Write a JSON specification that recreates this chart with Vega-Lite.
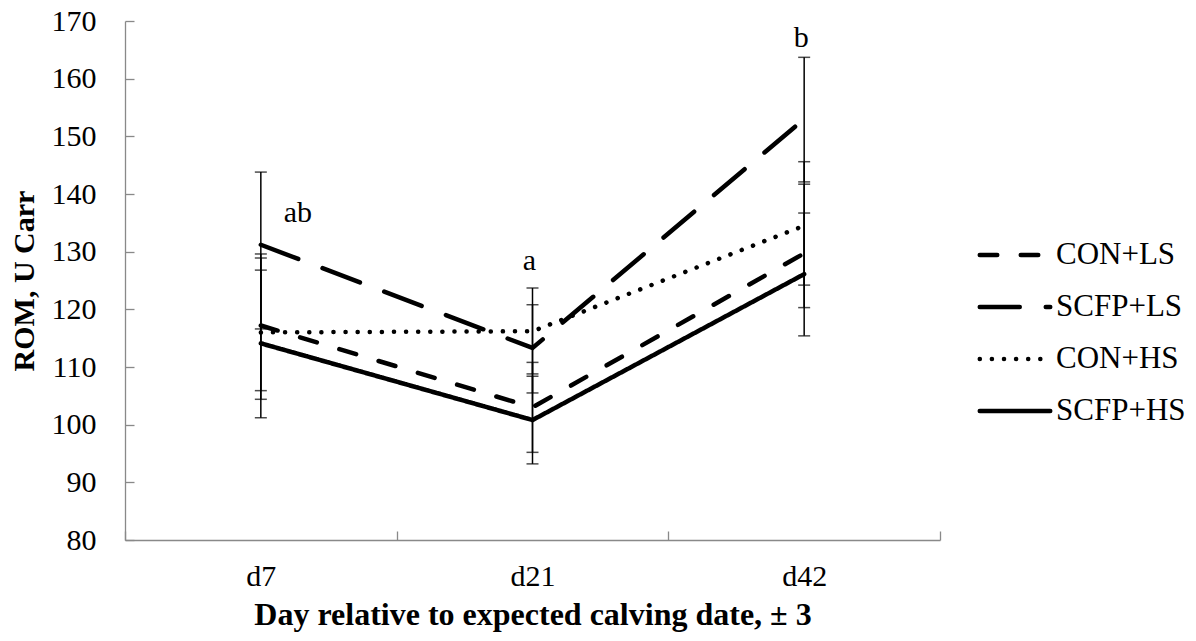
{
  "$schema": "https://vega.github.io/schema/vega-lite/v6.json",
  "autosize": "none",
  "width": 815,
  "height": 519,
  "padding": {"left": 125, "top": 21, "right": 256, "bottom": 101},
  "background": "white",
  "config": {
    "view": {"stroke": null},
    "font": "Liberation Serif",
    "axis": {"labelFont": "Liberation Serif", "titleFont": "Liberation Serif", "labelColor": "black", "titleColor": "black", "domainColor": "#898989", "tickColor": "#898989", "domainWidth": 1.3, "tickWidth": 1.3, "grid": false},
    "legend": {"labelFont": "Liberation Serif"}
  },
  "datasets": {
    "means": [
      {"day": "d7", "group": "CON+LS", "rom": 117.2, "lo": 105.9, "hi": 129.6},
      {"day": "d7", "group": "SCFP+LS", "rom": 131.2, "lo": 116.6, "hi": 143.8},
      {"day": "d7", "group": "CON+HS", "rom": 116.0, "lo": 104.4, "hi": 128.9},
      {"day": "d7", "group": "SCFP+HS", "rom": 114.1, "lo": 101.2, "hi": 126.8},
      {"day": "d21", "group": "CON+LS", "rom": 103.0, "lo": 95.2, "hi": 110.8},
      {"day": "d21", "group": "SCFP+LS", "rom": 113.3, "lo": 105.5, "hi": 120.8},
      {"day": "d21", "group": "CON+HS", "rom": 116.2, "lo": 108.8, "hi": 123.7},
      {"day": "d21", "group": "SCFP+HS", "rom": 100.8, "lo": 93.2, "hi": 108.4},
      {"day": "d42", "group": "CON+LS", "rom": 129.7, "lo": 120.3, "hi": 141.7},
      {"day": "d42", "group": "SCFP+LS", "rom": 153.0, "lo": 142.1, "hi": 163.7},
      {"day": "d42", "group": "CON+HS", "rom": 134.5, "lo": 124.2, "hi": 145.6},
      {"day": "d42", "group": "SCFP+HS", "rom": 126.1, "lo": 115.4, "hi": 136.7}
    ],
    "letters": [
      {"day": "d7", "label": "ab", "pos": 136.7},
      {"day": "d21", "label": "a", "pos": 128.3},
      {"day": "d42", "label": "b", "pos": 167.0}
    ]
  },
  "encoding": {
    "x": {"field": "day", "type": "nominal", "sort": ["d7", "d21", "d42"],
      "scale": {"domain": ["d7", "d21", "d42"], "paddingInner": 0, "paddingOuter": 0},
      "axis": {"title": "Day relative to expected calving date, ± 3", "labelAngle": 0, "labelFontSize": 30, "titleFontSize": 32, "titleFontWeight": "bold", "tickBand": "extent", "tickSize": -9, "labelPadding": 30, "titlePadding": 8}}
  },
  "layer": [
    {
      "data": {"name": "means"},
      "mark": {"type": "rule", "color": "black", "strokeWidth": 1.5},
      "encoding": {
        "y": {"field": "lo", "type": "quantitative"},
        "y2": {"field": "hi"}
      }
    },
    {
      "data": {"name": "means"},
      "mark": {"type": "tick", "color": "black", "size": 12, "thickness": 1.5, "orient": "horizontal"},
      "encoding": {"y": {"field": "lo", "type": "quantitative"}}
    },
    {
      "data": {"name": "means"},
      "mark": {"type": "tick", "color": "black", "size": 12, "thickness": 1.5, "orient": "horizontal"},
      "encoding": {"y": {"field": "hi", "type": "quantitative"}}
    },
    {
      "data": {"name": "means"},
      "mark": {"type": "line", "color": "black", "strokeWidth": 4.5, "strokeCap": "round"},
      "encoding": {
        "y": {"field": "rom", "type": "quantitative",
          "scale": {"domain": [80, 170], "nice": false, "zero": false},
          "axis": {"title": "ROM, U Carr", "values": [80, 90, 100, 110, 120, 130, 140, 150, 160, 170], "labelFontSize": 30, "titleFontSize": 30, "titleFontWeight": "bold", "tickSize": -9, "labelPadding": 38, "titlePadding": 12}},
        "strokeDash": {"field": "group", "type": "nominal",
          "scale": {"domain": ["CON+LS", "SCFP+LS", "CON+HS", "SCFP+HS"], "range": [[17.5, 23.5], [40, 26], [0.1, 12], [1, 0]]},
          "legend": {"title": null, "orient": "none", "legendX": 864, "legendY": 208, "labelFont": "Liberation Serif", "labelFontSize": 31, "labelColor": "black", "symbolType": "M-1.5,0H1.5", "symbolSize": 2209, "symbolStrokeWidth": 4.5, "symbolStrokeColor": "black", "rowPadding": 11, "labelOffset": 15, "labelLimit": 300,
            "encode": {"symbols": {"update": {"strokeCap": {"value": "round"}}}}}
        }
      }
    },
    {
      "data": {"name": "letters"},
      "transform": [{"filter": "datum.label == 'ab'"}],
      "mark": {"type": "text", "font": "Liberation Serif", "fontSize": 30, "color": "black", "dx": 37},
      "encoding": {"y": {"field": "pos", "type": "quantitative"}, "text": {"field": "label"}}
    },
    {
      "data": {"name": "letters"},
      "transform": [{"filter": "datum.label != 'ab'"}],
      "mark": {"type": "text", "font": "Liberation Serif", "fontSize": 30, "color": "black", "dx": -3},
      "encoding": {"y": {"field": "pos", "type": "quantitative"}, "text": {"field": "label"}}
    }
  ]
}
